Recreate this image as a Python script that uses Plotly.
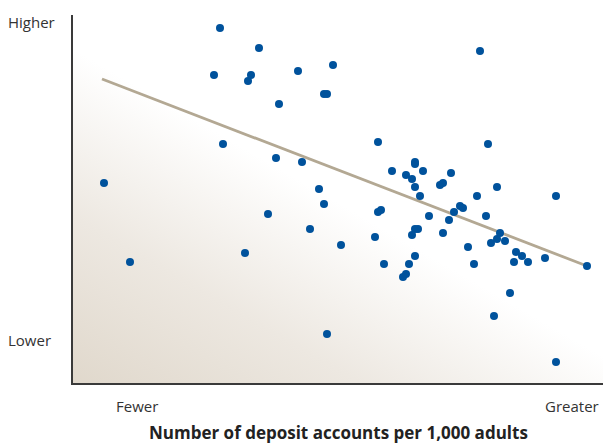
import base64
import plotly.graph_objects as go

# Data (arbitrary units: x = accounts index, y = outcome index)
deposit_accounts = [31, 57, 141, 147, 150, 172, 175, 178, 186, 195, 203, 206, 225, 229, 237, 246,
                    251, 254, 251, 254, 260, 268, 302, 305, 305, 308, 311, 319, 330, 333, 333, 336,
                    339, 339, 342, 342, 342, 342, 345, 342, 347, 350, 356, 367, 370, 370, 376, 378,
                    381, 387, 390, 395, 401, 404, 407, 413, 415, 418, 421, 424, 424, 427, 432, 437,
                    441, 443, 449, 455, 472, 483, 483, 514]
outcome = [200, 121, 308, 355, 239, 130, 302, 308, 335, 169, 225, 279, 312, 221, 154, 194,
           289, 289, 179, 49, 318, 138, 146, 241, 171, 173, 119, 212, 106, 109, 208, 119,
           204, 148, 221, 219, 196, 154, 154, 127, 187, 212, 167, 198, 200, 150, 163, 210,
           171, 177, 175, 136, 119, 187, 332, 167, 239, 140, 67, 196, 144, 150, 142, 90,
           121, 131, 127, 121, 125, 187, 21, 117]
trend_x = [29, 514]
trend_y = [304, 117]

x_labels = ["Fewer", "Greater"]
x_label_pos = [64, 499]
y_labels = ["Higher", "Lower"]
y_label_pos = [361, 43]
x_title = "Number of deposit accounts per 1,000 adults"

FONT = "Open Sans"
W, H = 603, 445
ML, MR, MT, MB = 73, 0, 15, 62
PW, PH = W - ML - MR, H - MT - MB

svg = f'''<svg xmlns="http://www.w3.org/2000/svg" width="{PW}" height="{PH}" viewBox="0 0 {PW} {PH}" preserveAspectRatio="none">
<defs><linearGradient id="g" gradientUnits="userSpaceOnUse" x1="0" y1="{PH}" x2="145" y2="118">
<stop offset="0" stop-color="#e0d8cc"/>
<stop offset="0.5" stop-color="#ede8e1"/>
<stop offset="1" stop-color="#ffffff"/>
</linearGradient></defs>
<rect x="0" y="0" width="{PW}" height="{PH}" fill="url(#g)"/></svg>'''
src = "data:image/svg+xml;base64," + base64.b64encode(svg.encode()).decode()

fig = go.Figure()
fig.add_trace(go.Scatter(x=trend_x, y=trend_y, mode="lines",
                         line=dict(color="#b3a893", width=2.8), hoverinfo="skip"))
fig.add_trace(go.Scatter(x=deposit_accounts, y=outcome, mode="markers",
                         marker=dict(color="#00529c", size=8, line=dict(width=0))))

annotations = []
for t, xv in zip(x_labels, x_label_pos):
    annotations.append(dict(x=xv, y=0, xref="x", yref="paper", text=t, showarrow=False,
                            yanchor="middle", yshift=-23,
                            font=dict(family=FONT, size=15, color="#333333")))
for t, yv in zip(y_labels, y_label_pos):
    annotations.append(dict(x=0, y=yv, xref="paper", yref="y", text=t, showarrow=False,
                            xanchor="left", xshift=-67,
                            font=dict(family=FONT, size=15, color="#333333")))
annotations.append(dict(x=0.5, y=0, xref="paper", yref="paper", text=f"<b>{x_title}</b>",
                        showarrow=False, yanchor="middle", yshift=-49,
                        font=dict(family=FONT, size=17, color="#222222")))

fig.update_layout(
    width=W, height=H,
    margin=dict(l=ML, r=MR, t=MT, b=MB),
    paper_bgcolor="white", plot_bgcolor="rgba(0,0,0,0)",
    showlegend=False,
    images=[dict(source=src, xref="paper", yref="paper", x=0, y=1, sizex=1, sizey=1,
                 xanchor="left", yanchor="top", sizing="stretch", layer="below")],
    annotations=annotations,
    xaxis=dict(range=[0, PW], showgrid=False, zeroline=False, showticklabels=False, ticks="",
               showline=True, linecolor="#3a3a3a", linewidth=2),
    yaxis=dict(range=[0, PH], showgrid=False, zeroline=False, showticklabels=False, ticks="",
               showline=True, linecolor="#3a3a3a", linewidth=2),
)
fig.write_html("out.html", config={"displayModeBar": False},
               post_script="document.body.style.margin='0';document.body.style.overflow='hidden';")
